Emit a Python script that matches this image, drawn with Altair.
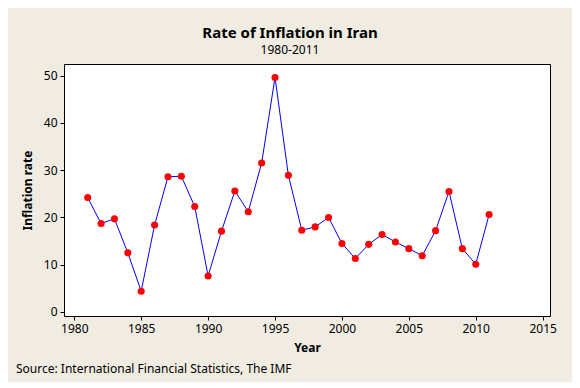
import altair as alt
import pandas as pd

years = [1981, 1982, 1983, 1984, 1985, 1986, 1987, 1988, 1989, 1990,
         1991, 1992, 1993, 1994, 1995, 1996, 1997, 1998, 1999, 2000,
         2001, 2002, 2003, 2004, 2005, 2006, 2007, 2008, 2009, 2010, 2011]
rates = [24.2, 18.7, 19.7, 12.5, 4.4, 18.4, 28.6, 28.7, 22.3, 7.6,
         17.1, 25.6, 21.2, 31.5, 49.6, 28.9, 17.3, 18.0, 20.0, 14.5,
         11.3, 14.3, 16.4, 14.8, 13.4, 11.9, 17.2, 25.5, 13.4, 10.1, 20.6]
x_ticks = [1980, 1985, 1990, 1995, 2000, 2005, 2010, 2015]
y_ticks = [0, 10, 20, 30, 40, 50]
title_text = "Rate of Inflation in Iran"
subtitle_text = "1980-2011"
source_text = "Source: International Financial Statistics, The IMF"

FONT = "Noto Sans"
BG = "#F0ECE2"

df = pd.DataFrame({"Year": years, "Rate": rates})

x_enc = alt.X("Year:Q",
              scale=alt.Scale(domain=[1979.23, 2015.55], nice=False, zero=False),
              axis=alt.Axis(values=x_ticks, format="d", title="Year",
                            titleY=31, titleBaseline="middle"))
y_enc = alt.Y("Rate:Q",
              scale=alt.Scale(domain=[-0.85, 52.45], nice=False, zero=False),
              axis=alt.Axis(values=y_ticks, title="Inflation rate",
                            titleX=-37, titleY=126, titleAngle=-90,
                            titleAlign="center", titleBaseline="middle"))

base = alt.Chart(df)
line = base.mark_line(color="#0000FF", strokeWidth=1).encode(x=x_enc, y=y_enc)
points = base.mark_circle(color="#FF0000", size=50, opacity=1).encode(x=x_enc, y=y_enc)
source = alt.Chart(pd.DataFrame({"t": [source_text]})).mark_text(
    align="left", baseline="middle", fontSize=12, font=FONT, color="black"
).encode(text="t:N", x=alt.value(-48), y=alt.value(305))

chart = alt.layer(line, points, source).properties(
    width=486, height=252,
    title=alt.Title(title_text, subtitle=subtitle_text, anchor="middle", dx=-17,
                    fontSize=15, fontWeight="bold", font=FONT, color="black",
                    subtitleFont=FONT, subtitleFontSize=12, subtitleColor="black",
                    subtitlePadding=4, offset=8),
    autosize=alt.AutoSizeParams(type="none"),
    padding={"left": 56, "top": 56, "right": 22, "bottom": 66},
    background=BG,
).configure_view(
    stroke="black", strokeWidth=1, fill="white"
).configure_axis(
    domain=False, grid=False, tickColor="black", tickSize=4, tickWidth=1,
    labelFont=FONT, labelFontSize=12, labelColor="black", labelPadding=3,
    titleFont=FONT, titleFontSize=12, titleFontWeight="bold", titleColor="black",
)

chart.save("out.html", embed_options={"renderer": "svg", "actions": False})
